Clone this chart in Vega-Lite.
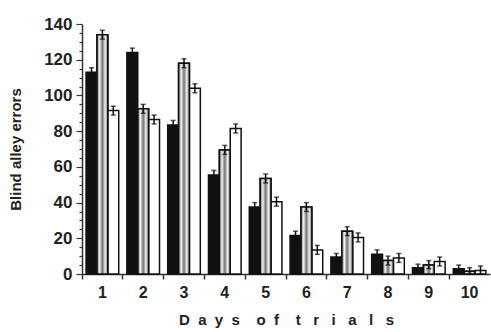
{
  "$schema": "https://vega.github.io/schema/vega-lite/v6.json",
  "width": 408,
  "height": 250,
  "autosize": {"type": "none"},
  "padding": {"left": 82, "top": 24, "right": 1, "bottom": 58},
  "background": "white",
  "config": {
    "view": {"stroke": null},
    "font": "Liberation Sans",
    "axis": {"grid": false, "domainColor": "#333", "tickColor": "#333", "labelColor": "#222", "titleColor": "#222", "labelFont": "Liberation Sans", "titleFont": "Liberation Sans", "labelFontWeight": "bold", "titleFontWeight": "bold"}
  },
  "data": {
    "values": [
      {"day": 1, "group": "A", "value": 113, "lo": 110.5, "hi": 115.5},
      {"day": 1, "group": "B", "value": 134, "lo": 131.5, "hi": 136.5},
      {"day": 1, "group": "C", "value": 91.5, "lo": 89, "hi": 94},
      {"day": 2, "group": "A", "value": 124, "lo": 121.5, "hi": 126.5},
      {"day": 2, "group": "B", "value": 92.5, "lo": 90, "hi": 95},
      {"day": 2, "group": "C", "value": 86.5, "lo": 84, "hi": 89},
      {"day": 3, "group": "A", "value": 83.5, "lo": 81, "hi": 86},
      {"day": 3, "group": "B", "value": 118, "lo": 115.5, "hi": 120.5},
      {"day": 3, "group": "C", "value": 104, "lo": 101.5, "hi": 106.5},
      {"day": 4, "group": "A", "value": 55.5, "lo": 53, "hi": 58},
      {"day": 4, "group": "B", "value": 69.5, "lo": 67, "hi": 72},
      {"day": 4, "group": "C", "value": 81.5, "lo": 79, "hi": 84},
      {"day": 5, "group": "A", "value": 37.5, "lo": 35, "hi": 40},
      {"day": 5, "group": "B", "value": 53.5, "lo": 51, "hi": 56},
      {"day": 5, "group": "C", "value": 40.5, "lo": 38, "hi": 43},
      {"day": 6, "group": "A", "value": 21.5, "lo": 19, "hi": 24},
      {"day": 6, "group": "B", "value": 37.5, "lo": 35, "hi": 40},
      {"day": 6, "group": "C", "value": 13.5, "lo": 11, "hi": 16},
      {"day": 7, "group": "A", "value": 9.5, "lo": 7.5, "hi": 11.5},
      {"day": 7, "group": "B", "value": 24, "lo": 21.5, "hi": 26.5},
      {"day": 7, "group": "C", "value": 20.5, "lo": 18, "hi": 23},
      {"day": 8, "group": "A", "value": 11, "lo": 9, "hi": 13.5},
      {"day": 8, "group": "B", "value": 7.5, "lo": 5, "hi": 10},
      {"day": 8, "group": "C", "value": 9, "lo": 6.5, "hi": 11.5},
      {"day": 9, "group": "A", "value": 3.5, "lo": 1.5, "hi": 5.5},
      {"day": 9, "group": "B", "value": 5, "lo": 3, "hi": 7.5},
      {"day": 9, "group": "C", "value": 7, "lo": 4.5, "hi": 9.5},
      {"day": 10, "group": "A", "value": 3, "lo": 1, "hi": 5},
      {"day": 10, "group": "B", "value": 1.5, "lo": 0, "hi": 3.5},
      {"day": 10, "group": "C", "value": 2, "lo": 0, "hi": 4.5}
    ]
  },
  "encoding": {
    "x": {
      "field": "day", "type": "ordinal",
      "scale": {"paddingInner": 0.2, "paddingOuter": 0.1},
      "axis": {
        "title": "D\u00a0\u00a0a\u00a0\u00a0y\u00a0\u00a0s\u00a0\u00a0\u00a0\u00a0o\u00a0\u00a0f\u00a0\u00a0\u00a0\u00a0t\u00a0\u00a0\u00a0r\u00a0\u00a0\u00a0i\u00a0\u00a0\u00a0a\u00a0\u00a0\u00a0l\u00a0\u00a0\u00a0s",
        "titleFontSize": 15, "titlePadding": 12,
        "labelAngle": 0, "labelFontSize": 16, "labelPadding": 5,
        "ticks": true, "tickSize": 5, "bandPosition": -0.125,
        "domainWidth": 1.5, "tickWidth": 1.5
      }
    },
    "xOffset": {"field": "group", "type": "nominal", "scale": {"paddingInner": 0, "paddingOuter": 0}},
    "y": {
      "field": "value", "type": "quantitative",
      "scale": {"domain": [0, 140], "nice": false},
      "axis": {
        "title": "Blind alley errors",
        "titleFontSize": 15, "titlePadding": 20,
        "labelFontSize": 17, "labelPadding": 4,
        "values": [0,5,10,15,20,25,30,35,40,45,50,55,60,65,70,75,80,85,90,95,100,105,110,115,120,125,130,135,140],
        "labelExpr": "datum.value % 20 === 0 ? datum.label : ''",
        "tickSize": {"condition": {"test": "datum.value % 20 === 0", "value": 6}, "value": 3},
        "domainWidth": 1.5, "tickWidth": 1.2
      }
    }
  },
  "layer": [
    {
      "mark": {"type": "bar", "stroke": "#111", "strokeWidth": 1.5},
      "encoding": {
        "fill": {
          "field": "group", "type": "nominal",
          "scale": {"domain": ["A", "B", "C"], "range": ["#111111", "#b8b8b8", "#ffffff"]},
          "legend": null
        }
      }
    },
    {
      "transform": [{"filter": "datum.group === 'B'"}],
      "mark": {
        "type": "bar", "stroke": "#111", "strokeWidth": 1.5,
        "fill": {
          "gradient": "linear", "x1": 0, "y1": 0, "x2": 1, "y2": 0,
          "stops": [
            {"offset": 0, "color": "#555"},
            {"offset": 0.12, "color": "#aaa"},
            {"offset": 0.25, "color": "#f4f4f4"},
            {"offset": 0.38, "color": "#aaa"},
            {"offset": 0.5, "color": "#777"},
            {"offset": 0.62, "color": "#aaa"},
            {"offset": 0.75, "color": "#f4f4f4"},
            {"offset": 0.88, "color": "#aaa"},
            {"offset": 1, "color": "#555"}
          ]
        }
      }
    },
    {
      "mark": {"type": "rule", "color": "#111", "strokeWidth": 1.5},
      "encoding": {"y": {"field": "lo", "type": "quantitative"}, "y2": {"field": "hi"}}
    },
    {
      "mark": {"type": "tick", "color": "#111", "size": 5, "thickness": 1.5},
      "encoding": {"y": {"field": "hi", "type": "quantitative"}}
    },
    {
      "mark": {"type": "tick", "color": "#111", "size": 5, "thickness": 1.5},
      "encoding": {"y": {"field": "lo", "type": "quantitative"}}
    }
  ]
}
